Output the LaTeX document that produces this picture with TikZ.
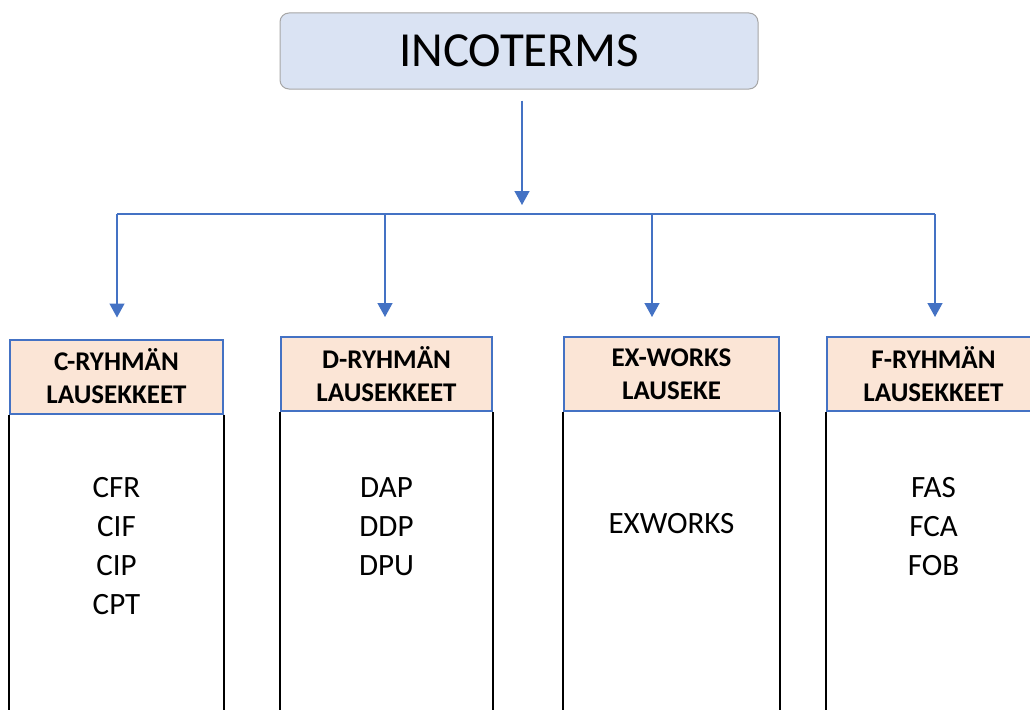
\documentclass[tikz,border=0pt]{standalone}
\usepackage{fontspec}
\setmainfont{Carlito}
\usetikzlibrary{arrows.meta}
\definecolor{linkblue}{HTML}{4472C4}
\definecolor{topfill}{HTML}{DAE3F3}
\definecolor{topedge}{HTML}{A6A6A6}
\definecolor{headfill}{HTML}{FBE5D6}
\tikzset{
  conn/.style={draw=linkblue, line width=1.4pt, -{Triangle[width=15pt,length=14pt]}},
  plainconn/.style={draw=linkblue, line width=1.4pt},
  topbox/.style={draw=topedge, fill=topfill, rounded corners=9pt, line width=1pt,
    minimum width=478pt, minimum height=76pt, font=\fontsize{49}{56}\selectfont},
  headbox/.style={draw=linkblue, fill=headfill, line width=2pt, minimum height=74pt,
    align=center, font=\fontsize{27}{33}\selectfont\bfseries},
  bodyline/.style={draw=black, line width=2pt},
  items/.style={align=center, anchor=north, inner sep=0pt, font=\fontsize{31}{39}\selectfont}
}
\begin{document}
\begin{tikzpicture}[x=1pt, y=-1pt]
  \useasboundingbox (0,0) rectangle (1030,709);
  \clip (0,0) rectangle (1030,709);

  % root
  \node[topbox] (top) at (519,51) {INCOTERMS};

  % branching bar
  \coordinate (hub) at (522,214);
  \coordinate (bC) at (117,214);
  \coordinate (bD) at (385,214);
  \coordinate (bE) at (652,214);
  \coordinate (bF) at (935,214);

  % group headers
  \node[headbox, minimum width=213pt] (hC) at (116.5,376.5) {C-RYHMÄN\\LAUSEKKEET};
  \node[headbox, minimum width=211pt] (hD) at (386.5,374) {D-RYHMÄN\\LAUSEKKEET};
  \node[headbox, minimum width=215pt] (hE) at (671.5,374) {EX-WORKS\\LAUSEKE};
  \node[headbox, minimum width=213pt] (hF) at (933.5,374) {F-RYHMÄN\\LAUSEKKEET};

  % column bodies
  \foreach \h in {hC,hD,hE,hF}{
    \draw[bodyline] (\h.south west) -- ++(0,330);
    \draw[bodyline] (\h.south east) -- ++(0,330);
  }

  % contents of each group
  \node[items] (iC) at (116.5,477) {CFR\\CIF\\CIP\\CPT};
  \node[items] (iD) at (386.5,477) {DAP\\DDP\\DPU};
  \node[items] (iE) at (671.5,513) {EXWORKS};
  \node[items] (iF) at (933.5,477) {FAS\\FCA\\FOB};

  % connectors
  \draw[conn, shorten <=11pt, shorten >=9pt] (top.south -| hub) -- (hub);
  \draw[plainconn] (bC) -- (bF);
  \draw[conn, shorten >=21pt] (bC) -- (hC.north -| bC);
  \draw[conn, shorten >=19pt] (bD) -- (hD.north -| bD);
  \draw[conn, shorten >=19pt] (bE) -- (hE.north -| bE);
  \draw[conn, shorten >=19pt] (bF) -- (hF.north -| bF);
\end{tikzpicture}
\end{document}
